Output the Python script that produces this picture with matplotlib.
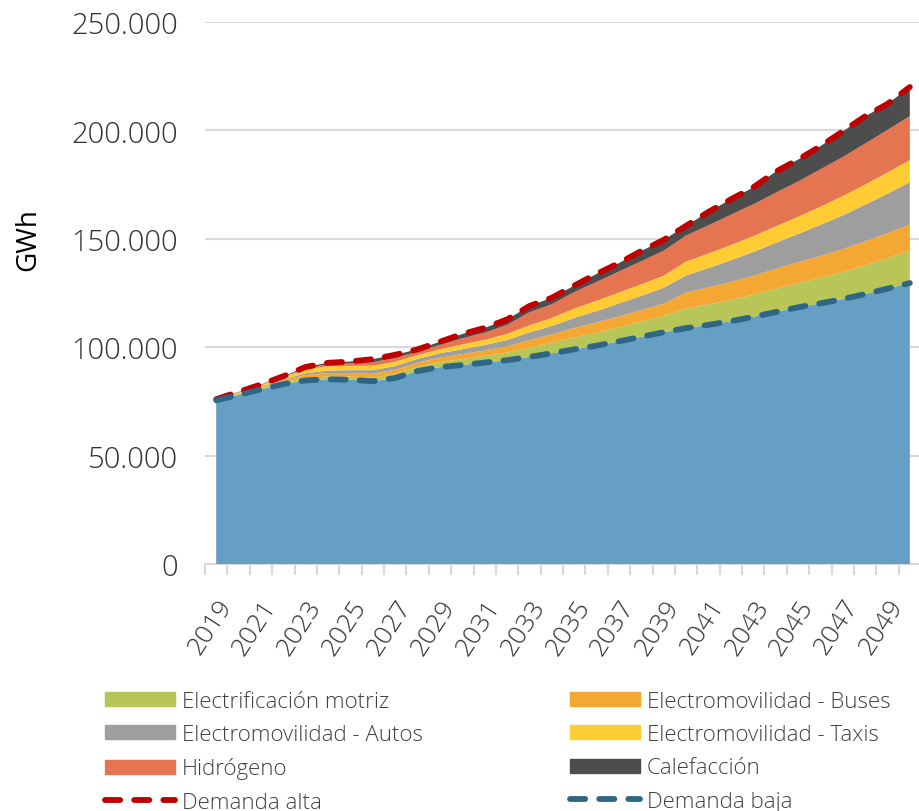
import matplotlib
matplotlib.use("Agg")
import matplotlib.pyplot as plt
from matplotlib.ticker import FuncFormatter, FixedLocator
from matplotlib.patches import Patch
from matplotlib.lines import Line2D

years = list(range(2019, 2051))

demanda_baja = [75500, 78000, 80500, 83000, 84700, 85200, 85000, 84300, 85800, 89000,
                90800, 91800, 92900, 94000, 95500, 97200, 99000, 100700, 102700, 104800,
                106900, 108800, 110300, 112000, 114000, 116200, 118400, 120200, 122200, 124500,
                127000, 129600]

electrificacion_motriz = [200, 400, 600, 800, 1100, 1300, 1400, 1600, 1800, 2000,
                          2300, 2700, 3100, 3500, 4300, 4800, 5500, 6000, 6500, 7000,
                          7600, 9000, 9400, 9800, 10200, 10700, 11100, 11800, 12500, 13300,
                          14100, 15000]

electromovilidad_buses = [100, 300, 500, 900, 1400, 1600, 1700, 1900, 2000, 1900,
                          2100, 2300, 2500, 2900, 3500, 3900, 4400, 4700, 5000, 5300,
                          5600, 7500, 7900, 8300, 8700, 9200, 9700, 10100, 10500, 11000,
                          11500, 12000]

electromovilidad_autos = [0, 100, 200, 400, 800, 1100, 1300, 1600, 1700, 1700,
                          2000, 2300, 2500, 2900, 3500, 3900, 4600, 5300, 6000, 6600,
                          7300, 7800, 8900, 10000, 11000, 12000, 13000, 14300, 15600, 16900,
                          18200, 19500]

electromovilidad_taxis = [100, 300, 600, 1000, 1800, 2000, 2000, 2100, 2000, 1800,
                          1900, 2200, 2400, 2800, 3300, 3700, 4300, 4700, 5000, 5300,
                          5600, 6400, 6700, 7000, 7300, 7600, 7900, 8400, 8900, 9300,
                          9800, 10200]

hidrogeno = [50, 150, 200, 300, 600, 900, 1100, 1600, 1800, 1500,
             2000, 2800, 3300, 4200, 6000, 6300, 7600, 8700, 9700, 10700,
             11500, 12000, 13000, 14000, 14700, 15500, 16300, 17200, 18000, 18900,
             19600, 20300]

calefaccion = [50, 150, 200, 200, 500, 700, 900, 1400, 1400, 1100,
               1400, 2000, 2200, 2500, 2900, 3000, 3000, 3700, 3900, 4700,
               5000, 4500, 6200, 7100, 7800, 9700, 10100, 10700, 11800, 12600,
               12000, 13400]

demanda_alta = [76000, 79400, 82800, 86600, 90900, 92800, 93400, 94500, 96500, 99000,
                102500, 106100, 108900, 112800, 119000, 122800, 128400, 133800, 138800, 144400,
                149500, 156000, 162400, 168200, 173700, 180900, 186500, 192700, 199500, 206500,
                212200, 220000]

series_labels = ["Electrificación motriz", "Electromovilidad - Buses", "Electromovilidad - Autos",
                 "Electromovilidad - Taxis", "Hidrógeno", "Calefacción"]
line_labels = ["Demanda alta", "Demanda baja"]
ytick_values = [0, 50000, 100000, 150000, 200000, 250000]
xtick_years = list(range(2019, 2050, 2))

c_base = "#659FC3"
colors = ["#B7C657", "#F5A733", "#9E9E9E", "#FFCC33", "#E57450", "#4D4D4D"]
c_alta = "#C00000"
c_baja = "#2F6686"
grid_c = "#D9D9D9"
txt_c = "#333333"
FONT = "Open Sans"

W, H = 919, 812
fig = plt.figure(figsize=(W / 100, H / 100), dpi=100)
ax = fig.add_axes([205 / W, 1 - 565 / H, 716 / W, 542 / H])

ax.stackplot(years, demanda_baja, electrificacion_motriz, electromovilidad_buses,
             electromovilidad_autos, electromovilidad_taxis, hidrogeno, calefaccion,
             colors=[c_base] + colors, linewidth=0, zorder=2)

dash = (2.6, 2.4)
ax.plot(years, demanda_alta, color=c_alta, lw=4.2, dashes=dash,
        dash_capstyle="round", solid_capstyle="round", zorder=4)
ax.plot(years, demanda_baja, color=c_baja, lw=4.2, dashes=dash,
        dash_capstyle="round", solid_capstyle="round", zorder=4)

ax.set_xlim(2018.5, 2050.5)
ax.set_ylim(0, 250000)

for sp in ["top", "right", "left"]:
    ax.spines[sp].set_visible(False)
ax.spines["bottom"].set_color(grid_c)
ax.spines["bottom"].set_linewidth(1.5)
ax.spines["bottom"].set_zorder(1)

ax.set_yticks(ytick_values)
ax.yaxis.set_major_formatter(FuncFormatter(lambda v, p: f"{int(v):,}".replace(",", ".")))
ax.yaxis.grid(True, color=grid_c, lw=1.5, zorder=0)
ax.set_axisbelow(True)
ax.tick_params(axis="y", length=0, pad=19.5, labelsize=21, labelcolor=txt_c)
for t in ax.get_yticklabels():
    t.set_fontfamily(FONT)
    t.set_fontweight("light")

ax.set_xticks(xtick_years)
ax.set_xticklabels([str(y) for y in xtick_years], rotation=57, ha="right",
                   rotation_mode="anchor", fontsize=19, color=txt_c,
                   fontfamily=FONT, fontweight="light")
ax.xaxis.set_minor_locator(FixedLocator([y - 0.5 for y in years] + [2050.5]))
ax.tick_params(axis="x", which="major", length=0, pad=22)
ax.tick_params(axis="x", which="minor", length=8, width=1.5, color=grid_c)

fig.text(28 / W, 1 - 240 / H, "GWh", rotation=90, ha="center", va="center",
         fontsize=20, color="black", fontfamily=FONT)

leg_font = {"family": FONT, "weight": "light", "size": 16}

def line_handle(c):
    return Line2D([0], [0], color=c, lw=4.2, dashes=dash, dash_capstyle="round")

h1 = [Patch(color=colors[0]), Patch(color=colors[2]), Patch(color=colors[4]), line_handle(c_alta)]
l1 = [series_labels[0], series_labels[2], series_labels[4], line_labels[0]]
h2 = [Patch(color=colors[1]), Patch(color=colors[3]), Patch(color=colors[5]), line_handle(c_baja)]
l2 = [series_labels[1], series_labels[3], series_labels[5], line_labels[1]]

common = dict(frameon=False, prop=leg_font, handlelength=3.15, handleheight=0.6,
              handletextpad=0.3, labelspacing=0.55, borderaxespad=0, borderpad=0,
              labelcolor="#404040", loc="upper left")
lg1 = fig.legend(h1, l1, bbox_to_anchor=(105 / W, 1 - 692 / H), **common)
lg2 = fig.legend(h2, l2, bbox_to_anchor=(570 / W, 1 - 692 / H), **common)

fig.savefig("out.png", dpi=100)
